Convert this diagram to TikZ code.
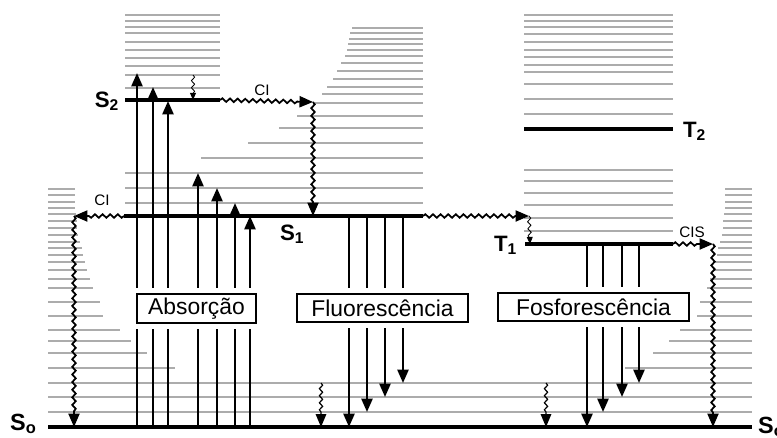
\documentclass[tikz,border=0pt]{standalone}
\usepackage{fontspec}
\setmainfont{Liberation Sans}
\usetikzlibrary{arrows.meta,decorations.pathmorphing,positioning}

\begin{document}
\begin{tikzpicture}[
        x=0.03cm, y=-0.03cm,
        level/.style={line width=3pt},
        vib/.style={gray!65, line width=1pt},
        trans/.style={-{Triangle[length=11.5pt,width=9.5pt]}, line width=2pt},
        wavy/.style={trans, line width=1.5pt, decorate,
            decoration={snake, amplitude=1.5pt, segment length=6.5pt, post length=11pt}},
        relax/.style={-{Triangle[length=6pt,width=5pt]}, line width=0.7pt, decorate,
            decoration={snake, amplitude=1.4pt, segment length=6pt, post length=5pt}},
        relaxbig/.style={relax, -{Triangle[length=11pt,width=9pt]}, line width=1pt,
            decoration={post length=11pt}},
        procbox/.style={
            draw,
            fill=white,
            line width=1.7pt,
            inner sep=0pt,
            preaction={draw=white, line width=10pt},
            font=\fontsize{19.5}{22}\selectfont
        },
        state/.style={font=\fontsize{19}{22}\selectfont\bfseries},
        cilabel/.style={font=\fontsize{13}{15}\selectfont}
    ]
    \useasboundingbox (0,0) rectangle (777,437);

    % Niveis vibracionais
    \foreach \y in {15,21,27,33,42,50,58,66,75,88}
        \draw[vib] (125,\y) -- (220,\y);
    \foreach \y/\xa in {28/352,33/350,39/349,44/348,50/347,56/345,63/341,71/337,79/333,
        87/327,94/322,103/315,116/297,128/279,143/248,158/201,173/125,188/125,203/125}
        \draw[vib] (\xa,\y) -- (423,\y);
    \foreach \y in {15,21,27,34,42,50,57,65,72,84,99,114,170,181,193,205,218,231}
        \draw[vib] (524,\y) -- (673,\y);
    \foreach \y/\len in {189/27,195/27,202/27,208/27,214/28,221/29,228/29,235/30,242/32,
        248/34,255/35,262/37,270/39,279/42,288/45,302/52,316/55,330/72,341/83,353/99,368/127} {
        \draw[vib] (48,\y) -- ++(\len,0);
        \draw[vib] (752,\y) -- ++(-\len,0);
    }
    \foreach \y in {383,397,412}
        \draw[vib] (48,\y) -- (752,\y);

    % Estados
    \coordinate (s0l) at (48,427);
    \coordinate (s0r) at (752,427);
    \coordinate (s1l) at (124,216);
    \coordinate (s1r) at (423,216);
    \coordinate (s2l) at (125,100);
    \coordinate (s2r) at (220,100);
    \coordinate (t1l) at (525,244);
    \coordinate (t1r) at (673,244);
    \coordinate (t2l) at (524,129);
    \coordinate (t2r) at (673,129);
    \draw[level] (s0l) -- (s0r);
    \draw[level] (s1l) -- (s1r);
    \draw[level] (s2l) -- (s2r);
    \draw[level] (t1l) -- (t1r);
    \draw[level] (t2l) -- (t2r);

    % Absorcao, fluorescencia, fosforescencia
    \foreach \x/\y in {137/73,153/87,168/101,198/173,217/188,235/203,250/216}
        \draw[trans] (\x,427) -- (\x,\y);
    \foreach \x/\y in {349/427,367/412,385/397,403/383}
        \draw[trans] (\x,216) -- (\x,\y);
    \foreach \x/\y in {587/427,603/412,622/397,639/383}
        \draw[trans] (\x,244) -- (\x,\y);

    % Conversoes
    \coordinate (ci1) at (74,216);
    \coordinate (ci1b) at (74,427);
    \coordinate (ci2) at (313,102);
    \coordinate (ci2b) at (313,216);
    \coordinate (cis1) at (529,216);
    \coordinate (cis1b) at (530,244);
    \coordinate (cis2) at (713,244);
    \coordinate (cis2b) at (713,427);
    \draw[wavy] (s1l) -- (ci1);
    \draw[wavy] (ci1) -- (ci1b);
    \draw[wavy] (s2r) -- (ci2);
    \draw[wavy] (ci2) -- (ci2b);
    \draw[wavy] (s1r) -- (cis1);
    \draw[relax] (cis1) -- (cis1b);
    \draw[wavy] (t1r) -- (cis2);
    \draw[wavy] (cis2) -- (cis2b);

    % Relaxacao vibracional
    \coordinate (vr2a) at (193,75);
    \coordinate (vr2b) at (193,100);
    \coordinate (vr0a) at (321,383);
    \coordinate (vr0b) at (321,427);
    \coordinate (vr0c) at (546,383);
    \coordinate (vr0d) at (546,427);
    \draw[relax] (vr2a) -- (vr2b);
    \draw[relaxbig] (vr0a) -- (vr0b);
    \draw[relaxbig] (vr0c) -- (vr0d);

    % Caixas
    \node[procbox, minimum width=3.57cm, minimum height=0.87cm] (abs) at (196.5,308.5) {Absorção};
    \node[procbox, minimum width=5.13cm, minimum height=0.84cm] (fluo) at (382.5,308) {Fluorescência};
    \node[procbox, minimum width=5.73cm, minimum height=0.84cm] (fosf) at (593.5,307) {Fosforescência};

    % Rotulos
    \node[state, anchor=base east] (s2lab) at (123,107) {S\textsubscript{2}};
    \node[state, anchor=base west] (s1lab) at (276,240) {S\textsubscript{1}};
    \node[state, anchor=base east] (t1lab) at (521,251) {T\textsubscript{1}};
    \node[state, anchor=base west] (t2lab) at (679,137) {T\textsubscript{2}};
    \node[state, font=\fontsize{20}{22}\selectfont\bfseries, anchor=base west] (s0lab) at (6,430) {S\textsubscript{o}};
    \node[state, font=\fontsize{20}{22}\selectfont\bfseries, anchor=base west] (s0rlab) at (754,433) {S\textsubscript{o}};
    \node[cilabel] (cilab1) at (102,200) {CI};
    \node[cilabel] (cilab2) at (262,90) {CI};
    \node[cilabel] (cislab) at (692,232) {CIS};

\end{tikzpicture}
\end{document}
